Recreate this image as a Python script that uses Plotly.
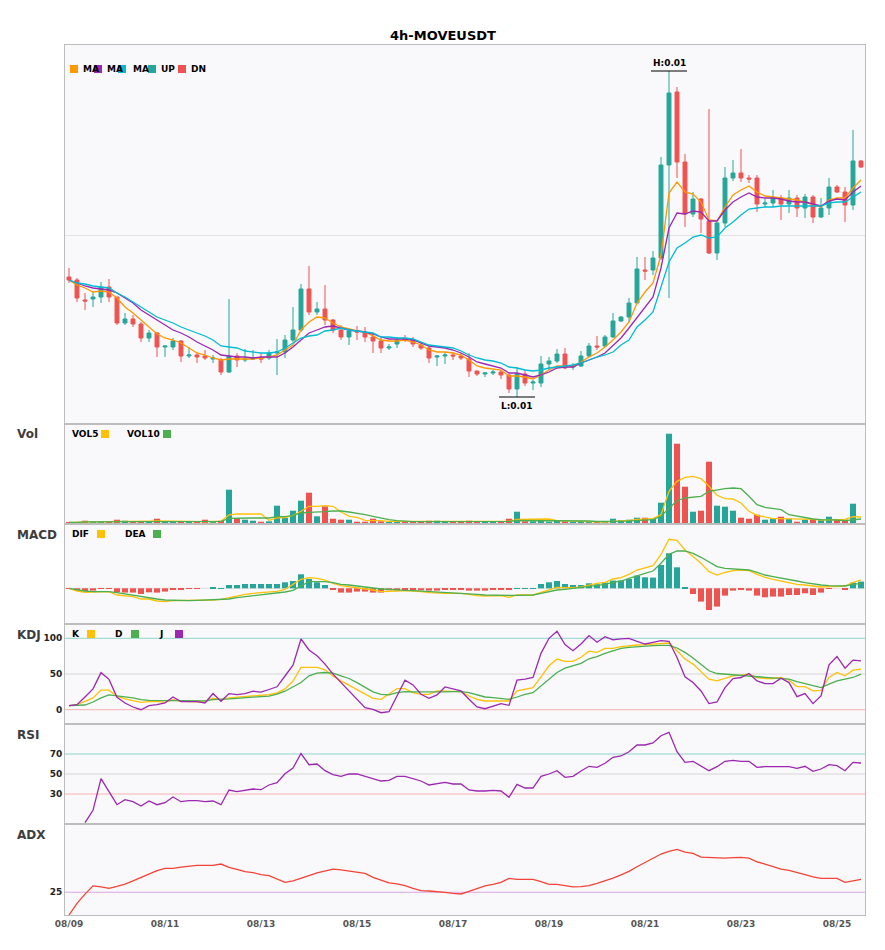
import pandas as pd
import plotly.graph_objects as go
from plotly.subplots import make_subplots

# 4h candles, 08/09 00:00 onwards
times = pd.date_range("2025-08-09 00:00", periods=100, freq="4h")

open_ = [0.01158, 0.01155, 0.01135, 0.01136, 0.01138, 0.01148, 0.01138, 0.01112, 0.01116, 0.01111,
         0.01097, 0.01102, 0.01088, 0.01088, 0.01094, 0.01079, 0.01080, 0.01079, 0.01076, 0.01075,
         0.01063, 0.01079, 0.01075, 0.01076, 0.01077, 0.01077, 0.01082, 0.01083, 0.01095, 0.01105,
         0.01146, 0.01123, 0.01126, 0.01115, 0.01105, 0.01098, 0.01104, 0.01102, 0.01098, 0.01094,
         0.01087, 0.01091, 0.01096, 0.01095, 0.01090, 0.01087, 0.01078, 0.01079, 0.01080, 0.01079,
         0.01076, 0.01064, 0.01061, 0.01062, 0.01063, 0.01060, 0.01046, 0.01061, 0.01052, 0.01052,
         0.01071, 0.01074, 0.01081, 0.01068, 0.01069, 0.01079, 0.01089, 0.01089, 0.01098, 0.01114,
         0.01118, 0.01132, 0.01165, 0.01165, 0.01177, 0.01270, 0.01343, 0.01273, 0.01221, 0.01236,
         0.01214, 0.01182, 0.01212, 0.01257, 0.01262, 0.01257, 0.01257, 0.01231, 0.01232, 0.01237,
         0.01231, 0.01237, 0.01227, 0.01238, 0.01218, 0.01227, 0.01248, 0.01243, 0.01230, 0.01274]
high = [0.01167, 0.01157, 0.01142, 0.01143, 0.01153, 0.01156, 0.01138, 0.01122, 0.01120, 0.01113,
        0.01105, 0.01103, 0.01089, 0.01097, 0.01095, 0.01088, 0.01083, 0.01085, 0.01080, 0.01077,
        0.01136, 0.01082, 0.01086, 0.01085, 0.01082, 0.01085, 0.01096, 0.01100, 0.01128, 0.01151,
        0.01169, 0.01133, 0.01150, 0.01116, 0.01110, 0.01107, 0.01109, 0.01108, 0.01102, 0.01097,
        0.01091, 0.01098, 0.01100, 0.01098, 0.01092, 0.01090, 0.01080, 0.01083, 0.01083, 0.01082,
        0.01082, 0.01064, 0.01063, 0.01065, 0.01065, 0.01061, 0.01068, 0.01065, 0.01055, 0.01079,
        0.01078, 0.01086, 0.01087, 0.01072, 0.01084, 0.01092, 0.01099, 0.01100, 0.01122, 0.01119,
        0.01137, 0.01178, 0.01178, 0.01184, 0.01278, 0.01364, 0.01348, 0.01281, 0.01243, 0.01237,
        0.01326, 0.01213, 0.01268, 0.01275, 0.01286, 0.01260, 0.01260, 0.01236, 0.01245, 0.01240,
        0.01245, 0.01240, 0.01241, 0.01240, 0.01237, 0.01257, 0.01250, 0.01248, 0.01305, 0.01275]
low = [0.01152, 0.01133, 0.01125, 0.01128, 0.01132, 0.01133, 0.01110, 0.01110, 0.01108, 0.01093,
       0.01093, 0.01078, 0.01078, 0.01085, 0.01073, 0.01077, 0.01072, 0.01075, 0.01072, 0.01060,
       0.01062, 0.01068, 0.01073, 0.01075, 0.01072, 0.01075, 0.01060, 0.01077, 0.01093, 0.01103,
       0.01120, 0.01120, 0.01110, 0.01102, 0.01095, 0.01090, 0.01095, 0.01093, 0.01082, 0.01082,
       0.01085, 0.01087, 0.01093, 0.01088, 0.01085, 0.01072, 0.01069, 0.01071, 0.01075, 0.01075,
       0.01058, 0.01059, 0.01058, 0.01060, 0.01056, 0.01042, 0.01038, 0.01049, 0.01045, 0.01048,
       0.01065, 0.01072, 0.01066, 0.01065, 0.01068, 0.01078, 0.01085, 0.01088, 0.01097, 0.01113,
       0.01113, 0.01132, 0.01155, 0.01160, 0.01175, 0.01137, 0.01257, 0.01208, 0.01218, 0.01202,
       0.01181, 0.01175, 0.01208, 0.01254, 0.01253, 0.01252, 0.01223, 0.01228, 0.01228, 0.01215,
       0.01222, 0.01218, 0.01217, 0.01212, 0.01217, 0.01220, 0.01242, 0.01213, 0.01225, 0.01267]
close = [0.01155, 0.01137, 0.01134, 0.01138, 0.01148, 0.01138, 0.01112, 0.01116, 0.01111, 0.01097,
         0.01102, 0.01088, 0.01089, 0.01094, 0.01079, 0.01080, 0.01078, 0.01077, 0.01077, 0.01063,
         0.01079, 0.01075, 0.01076, 0.01077, 0.01076, 0.01082, 0.01083, 0.01095, 0.01105, 0.01146,
         0.01123, 0.01126, 0.01115, 0.01105, 0.01098, 0.01104, 0.01103, 0.01098, 0.01094, 0.01087,
         0.01088, 0.01095, 0.01095, 0.01091, 0.01087, 0.01077, 0.01079, 0.01080, 0.01079, 0.01077,
         0.01064, 0.01061, 0.01062, 0.01063, 0.01060, 0.01046, 0.01061, 0.01052, 0.01053, 0.01071,
         0.01074, 0.01081, 0.01067, 0.01069, 0.01079, 0.01089, 0.01088, 0.01098, 0.01114, 0.01118,
         0.01132, 0.01166, 0.01164, 0.01177, 0.01270, 0.01342, 0.01273, 0.01221, 0.01236, 0.01216,
         0.01182, 0.01212, 0.01257, 0.01262, 0.01257, 0.01256, 0.01231, 0.01232, 0.01237, 0.01231,
         0.01237, 0.01227, 0.01238, 0.01218, 0.01227, 0.01248, 0.01243, 0.01230, 0.01274, 0.01268]

ma5 = [0.01155, 0.01150, 0.01147, 0.01143, 0.01144, 0.01143, 0.01137, 0.01128, 0.01122, 0.01115,
       0.01108, 0.01101, 0.01097, 0.01095, 0.01092, 0.01087, 0.01082, 0.01080, 0.01077, 0.01075,
       0.01076, 0.01076, 0.01076, 0.01076, 0.01077, 0.01078, 0.01080, 0.01085, 0.01090, 0.01105,
       0.01113, 0.01118, 0.01117, 0.01112, 0.01108, 0.01106, 0.01104, 0.01103, 0.01099, 0.01095,
       0.01094, 0.01094, 0.01095, 0.01093, 0.01090, 0.01085, 0.01083, 0.01083, 0.01082, 0.01080,
       0.01075, 0.01069, 0.01067, 0.01066, 0.01065, 0.01059, 0.01059, 0.01058, 0.01056, 0.01060,
       0.01065, 0.01069, 0.01069, 0.01069, 0.01073, 0.01078, 0.01082, 0.01088, 0.01095, 0.01103,
       0.01113, 0.01132, 0.01143, 0.01152, 0.01180, 0.01242, 0.01253, 0.01243, 0.01241, 0.01233,
       0.01215, 0.01214, 0.01228, 0.01240, 0.01245, 0.01249, 0.01243, 0.01239, 0.01238, 0.01237,
       0.01236, 0.01235, 0.01233, 0.01230, 0.01228, 0.01235, 0.01237, 0.01237, 0.01247, 0.01255]
ma10 = [0.01155, 0.01152, 0.01149, 0.01147, 0.01146, 0.01145, 0.01142, 0.01137, 0.01132, 0.01125,
        0.01120, 0.01115, 0.01110, 0.01105, 0.01102, 0.01098, 0.01093, 0.01089, 0.01085, 0.01080,
        0.01079, 0.01078, 0.01078, 0.01077, 0.01078, 0.01078, 0.01078, 0.01082, 0.01088, 0.01095,
        0.01102, 0.01105, 0.01108, 0.01109, 0.01107, 0.01105, 0.01104, 0.01103, 0.01101, 0.01098,
        0.01096, 0.01096, 0.01096, 0.01095, 0.01092, 0.01089, 0.01088, 0.01087, 0.01085, 0.01082,
        0.01078, 0.01073, 0.01071, 0.01069, 0.01067, 0.01062, 0.01062, 0.01060, 0.01058, 0.01060,
        0.01063, 0.01067, 0.01068, 0.01068, 0.01072, 0.01075, 0.01078, 0.01082, 0.01090, 0.01097,
        0.01107, 0.01117, 0.01127, 0.01138, 0.01167, 0.01207, 0.01222, 0.01221, 0.01224, 0.01223,
        0.01214, 0.01214, 0.01225, 0.01233, 0.01238, 0.01242, 0.01238, 0.01237, 0.01237, 0.01236,
        0.01234, 0.01233, 0.01233, 0.01231, 0.01229, 0.01234, 0.01236, 0.01235, 0.01243, 0.01249]
ma20 = [0.01155, 0.01152, 0.01151, 0.01149, 0.01148, 0.01147, 0.01142, 0.01138, 0.01133, 0.01128,
        0.01123, 0.01118, 0.01115, 0.01112, 0.01108, 0.01105, 0.01102, 0.01099, 0.01095, 0.01089,
        0.01088, 0.01087, 0.01084, 0.01083, 0.01082, 0.01082, 0.01083, 0.01087, 0.01092, 0.01097,
        0.01099, 0.01100, 0.01104, 0.01105, 0.01107, 0.01105, 0.01104, 0.01103, 0.01102, 0.01098,
        0.01098, 0.01097, 0.01097, 0.01096, 0.01093, 0.01090, 0.01089, 0.01088, 0.01087, 0.01084,
        0.01080, 0.01077, 0.01075, 0.01074, 0.01072, 0.01068, 0.01067, 0.01065, 0.01064, 0.01065,
        0.01067, 0.01068, 0.01069, 0.01070, 0.01072, 0.01075, 0.01078, 0.01080, 0.01083, 0.01090,
        0.01095, 0.01108, 0.01115, 0.01123, 0.01147, 0.01173, 0.01187, 0.01192, 0.01198, 0.01200,
        0.01197, 0.01198, 0.01207, 0.01213, 0.01220, 0.01226, 0.01227, 0.01228, 0.01228, 0.01229,
        0.01229, 0.01229, 0.01229, 0.01229, 0.01229, 0.01232, 0.01233, 0.01233, 0.01238, 0.01243]

volume = [1.7, 1.3, 3.3, 2.0, 2.0, 2.0, 4.3, 3.3, 2.0, 2.3,
          2.3, 5.3, 2.0, 1.3, 2.7, 1.7, 2.0, 4.3, 2.0, 3.3,
          34.3, 6.0, 4.3, 3.3, 2.3, 2.7, 18.3, 6.0, 13.3, 23.3,
          31.3, 7.7, 17.7, 5.3, 4.3, 4.3, 2.3, 2.3, 5.3, 2.7,
          1.7, 1.7, 1.7, 2.0, 2.0, 3.3, 3.3, 2.0, 2.0, 2.7,
          3.3, 1.7, 1.7, 1.7, 1.7, 5.3, 12.3, 2.7, 2.7, 4.3,
          2.3, 3.7, 2.7, 1.7, 1.7, 1.7, 1.7, 2.3, 5.3, 4.0,
          4.3, 6.3, 6.3, 5.3, 21.3, 90.3, 80.3, 37.3, 12.3, 13.3,
          62.3, 18.3, 17.3, 13.3, 6.3, 5.3, 9.3, 4.3, 5.3, 7.3,
          5.3, 2.3, 4.3, 4.3, 4.3, 7.3, 4.3, 4.3, 20.3, 0.7]
vol5 = [1.7, 1.5, 2.1, 2.1, 2.1, 2.1, 2.7, 2.7, 2.7, 2.8,
        2.8, 3.0, 2.8, 2.6, 2.7, 2.6, 2.0, 2.4, 2.5, 2.7,
        9.2, 10.0, 10.0, 10.0, 10.0, 3.7, 6.2, 6.5, 8.5, 12.7,
        17.7, 17.7, 18.3, 17.7, 12.0, 7.7, 6.7, 3.7, 3.7, 3.3,
        2.7, 2.7, 2.3, 2.0, 2.0, 2.0, 2.3, 2.7, 2.7, 2.7,
        2.7, 2.3, 2.3, 2.3, 2.0, 2.7, 4.7, 4.7, 5.0, 5.3,
        5.0, 3.3, 3.3, 3.0, 2.7, 2.3, 2.0, 2.0, 2.7, 3.0,
        3.7, 4.7, 5.3, 5.3, 9.3, 32.7, 42.7, 46.7, 47.7, 45.3,
        37.7, 28.7, 25.3, 25.0, 21.0, 12.7, 8.7, 6.7, 5.3, 5.3,
        5.3, 4.7, 4.7, 4.7, 4.0, 4.3, 4.7, 4.7, 7.3, 7.0]
vol10 = [1.7, 1.5, 2.1, 2.1, 2.1, 2.1, 2.4, 2.5, 2.5, 2.5,
         2.7, 2.8, 2.7, 2.6, 2.6, 2.6, 2.5, 2.7, 2.6, 2.6,
         5.7, 6.0, 6.0, 6.0, 6.0, 6.0, 7.3, 7.3, 8.3, 11.0,
         11.7, 11.7, 12.3, 13.0, 13.0, 12.0, 11.0, 9.3, 7.7, 5.7,
         4.3, 3.3, 2.7, 2.3, 2.3, 2.3, 2.3, 2.3, 2.3, 2.3,
         2.5, 2.3, 2.3, 2.3, 2.3, 2.7, 3.5, 3.5, 3.5, 3.7,
         3.7, 3.7, 3.7, 3.7, 3.5, 3.0, 2.5, 2.3, 2.7, 2.7,
         3.0, 3.3, 4.0, 4.3, 7.7, 16.0, 23.3, 26.0, 26.7, 27.7,
         32.7, 34.3, 35.3, 36.0, 35.3, 27.7, 19.3, 16.7, 15.3, 14.3,
         9.3, 7.7, 6.0, 5.0, 4.3, 4.3, 4.0, 3.3, 4.3, 5.0]

# MACD values in units of 1e-5
dif = [0.0, -2.7, -4.0, -4.0, -3.3, -3.3, -6.7, -7.7, -8.3, -10.7,
       -10.7, -12.7, -13.3, -12.3, -12.3, -12.3, -12.0, -11.7, -11.7, -11.0,
       -9.3, -7.3, -6.0, -5.0, -4.3, -3.7, -3.0, -1.0, 4.0, 9.0,
       10.7, 10.0, 8.3, 5.0, 2.7, 1.7, 0.7, 0.0, -1.7, -3.3,
       -2.7, -2.7, -2.3, -2.7, -3.3, -4.3, -5.0, -5.0, -5.0, -5.0,
       -6.0, -7.3, -7.7, -7.3, -7.3, -9.0, -6.7, -6.7, -6.7, -4.0,
       -1.7, 1.0, 0.7, 0.7, 1.5, 3.3, 5.0, 6.0, 9.3, 10.7,
       14.0, 18.3, 20.7, 22.7, 34.0, 49.0, 48.0, 38.3, 31.7, 25.0,
       16.7, 13.3, 16.0, 17.7, 18.3, 17.7, 14.0, 11.0, 9.0, 7.3,
       6.0, 4.0, 3.3, 2.3, 1.3, 1.7, 2.3, 2.3, 6.0, 8.3]
dea = [0.0, -1.7, -2.7, -3.3, -3.3, -3.3, -4.3, -5.7, -6.7, -8.3,
       -9.3, -10.7, -11.7, -12.0, -12.3, -12.3, -12.0, -11.7, -11.7, -11.3,
       -10.7, -9.3, -8.3, -7.7, -6.7, -5.7, -5.0, -3.7, -2.0, 2.5,
       6.7, 6.7, 6.7, 5.7, 4.0, 3.3, 2.3, 1.0, 0.0, -0.7,
       -1.0, -1.7, -2.0, -2.3, -2.7, -3.3, -4.0, -4.3, -4.3, -5.0,
       -5.7, -6.0, -6.7, -7.0, -7.0, -7.0, -7.0, -7.0, -6.7, -5.0,
       -3.3, -1.7, -1.0, 0.0, 0.5, 2.0, 2.7, 4.0, 6.0, 7.3,
       10.0, 12.7, 15.0, 17.3, 25.0, 34.0, 37.3, 37.3, 35.0, 31.0,
       26.7, 21.7, 20.0, 19.3, 19.0, 18.3, 16.0, 13.3, 11.7, 10.0,
       8.3, 7.3, 5.7, 4.3, 3.3, 2.7, 2.7, 2.3, 4.0, 5.0]
macd_hist = [-0.7, -2.3, -3.0, -2.3, -0.7, -0.7, -4.0, -4.3, -4.3, -5.7,
             -4.0, -4.3, -3.3, -1.0, -1.3, -0.7, -0.3, 0.0, 0.7, 0.3,
             3.3, 3.3, 4.3, 4.3, 4.3, 4.3, 4.3, 6.0, 7.3, 14.0,
             9.3, 6.0, 3.3, -1.0, -4.3, -4.3, -3.3, -3.3, -4.3, -4.3,
             -2.0, -2.0, -1.0, -1.0, -2.0, -2.3, -2.3, -1.0, -1.0, -1.0,
             -2.3, -2.3, -2.3, -1.0, -1.0, -1.0, 0.3, 0.3, 0.3, 4.3,
             6.0, 7.3, 4.3, 3.3, 3.3, 5.0, 4.0, 5.7, 7.7, 7.7,
             9.3, 12.7, 11.0, 10.7, 23.3, 35.0, 21.0, 1.3, -5.7, -13.3,
             -21.7, -18.3, -7.3, -2.3, -1.7, -2.3, -7.3, -9.0, -8.3, -8.3,
             -6.7, -6.7, -5.0, -6.7, -4.3, -0.7, 0.0, -1.7, 5.7, 6.7]

k_line = [5.7, 7.0, 11.8, 16.5, 27.4, 27.4, 18.9, 15.1, 12.7, 10.4,
          11.3, 11.8, 10.4, 14.2, 11.8, 11.3, 11.3, 10.8, 16.0, 14.2,
          16.5, 17.5, 17.9, 19.8, 19.8, 21.2, 23.6, 29.2, 40.1, 59.2,
          59.2, 59.2, 55.9, 47.4, 40.4, 34.3, 27.2, 21.6, 16.0, 14.6,
          21.6, 29.6, 29.6, 23.9, 21.6, 21.6, 26.3, 26.3, 25.4, 25.4,
          19.2, 14.6, 12.2, 12.2, 12.2, 12.2, 26.3, 28.6, 31.0, 46.0,
          61.5, 70.9, 67.6, 67.6, 73.5, 82.0, 80.3, 85.9, 85.9, 88.3,
          89.7, 90.6, 91.1, 92.0, 93.4, 93.4, 82.6, 70.9, 63.8, 53.1,
          42.7, 40.4, 44.1, 47.4, 48.4, 49.8, 45.1, 43.7, 43.7, 45.1,
          41.3, 32.4, 32.4, 26.3, 27.2, 45.1, 52.1, 47.4, 55.4, 56.8]
d_line = [5.7, 5.7, 6.6, 10.8, 16.5, 20.8, 18.9, 17.9, 16.5, 14.2,
          13.2, 12.7, 12.7, 12.7, 12.7, 12.7, 12.7, 12.3, 14.2, 14.2,
          15.1, 16.0, 17.0, 17.9, 18.4, 18.9, 21.7, 25.9, 31.6, 38.0,
          47.4, 51.2, 52.1, 51.2, 47.4, 43.7, 38.0, 31.0, 24.9, 21.6,
          20.7, 23.9, 25.4, 24.9, 24.9, 23.9, 23.9, 24.9, 25.4, 25.4,
          23.9, 20.7, 17.8, 16.9, 16.0, 14.6, 17.8, 21.6, 23.9, 33.3,
          43.7, 52.1, 58.2, 61.5, 64.8, 71.3, 74.2, 78.9, 82.6, 85.9,
          87.3, 88.3, 88.7, 89.7, 90.1, 90.1, 86.4, 80.3, 72.3, 63.8,
          54.5, 50.7, 49.8, 49.3, 48.4, 47.4, 46.5, 46.0, 45.1, 44.1,
          42.7, 39.4, 36.6, 33.3, 31.0, 35.7, 40.4, 42.7, 45.1, 49.8]
j_line = [5.7, 7.0, 17.9, 29.2, 51.9, 42.5, 17.5, 9.4, 3.8, 0.0,
          5.7, 7.0, 9.4, 17.9, 11.3, 11.3, 11.3, 9.4, 22.6, 11.8,
          22.6, 21.2, 22.6, 25.9, 24.5, 28.3, 32.1, 47.2, 62.3, 99.0,
          83.6, 75.6, 63.8, 49.8, 38.0, 26.3, 14.6, 2.8, 0.5, -4.2,
          -2.8, 19.2, 41.3, 34.7, 21.6, 16.0, 20.7, 31.9, 28.6, 26.3,
          14.6, 3.8, 1.4, 5.2, 8.5, 6.1, 41.3, 42.7, 45.1, 78.9,
          100.0, 109.9, 91.1, 82.6, 92.0, 103.8, 94.4, 102.3, 97.7, 99.1,
          100.0, 95.8, 92.0, 94.4, 96.7, 95.8, 73.2, 46.0, 38.0, 26.3,
          8.5, 10.8, 31.0, 43.7, 45.1, 50.7, 40.4, 36.6, 36.6, 44.1,
          38.0, 18.3, 22.5, 8.5, 19.2, 62.9, 74.6, 58.2, 69.5, 68.5]

rsi = [None, None, 1.3, 13.7, 45.3, 32.0, 19.3, 24.3, 22.3, 18.0,
       23.0, 19.3, 21.3, 27.0, 22.3, 23.3, 23.3, 22.3, 23.0, 19.3,
       34.0, 32.3, 34.0, 35.0, 34.3, 39.0, 41.3, 50.3, 56.0, 70.5,
       59.3, 60.0, 53.3, 49.3, 47.7, 50.0, 50.0, 47.7, 46.0, 43.0,
       43.7, 47.7, 47.7, 45.0, 43.0, 39.0, 40.0, 41.7, 40.0, 40.0,
       34.0, 33.0, 33.0, 33.7, 33.0, 26.7, 39.7, 36.0, 36.0, 47.7,
       50.0, 53.3, 46.7, 47.7, 53.0, 57.7, 56.7, 60.7, 66.7, 68.0,
       72.3, 79.0, 79.0, 81.0, 88.3, 91.7, 72.3, 61.7, 62.7, 58.3,
       53.3, 57.3, 62.7, 63.7, 62.7, 62.7, 56.7, 57.3, 57.3, 56.7,
       57.3, 55.7, 57.7, 52.7, 55.0, 59.3, 58.3, 53.3, 61.7, 61.0]

adx = [0.0, 12.8, 23.0, 32.0, 31.0, 29.3, 31.5, 34.0, 37.4, 41.0,
       44.7, 48.7, 51.3, 51.3, 52.7, 53.8, 54.6, 54.6, 54.6, 56.0,
       52.4, 50.2, 47.6, 46.5, 44.3, 43.2, 39.2, 35.9, 37.4, 39.9,
       43.2, 46.2, 48.7, 50.5, 49.5, 48.4, 47.6, 45.8, 41.4, 38.1,
       35.2, 34.1, 32.2, 29.3, 26.7, 26.4, 26.0, 24.9, 23.8, 23.1,
       26.0, 29.3, 31.9, 33.7, 35.9, 40.3, 39.2, 39.2, 39.2, 36.6,
       33.7, 33.7, 32.6, 30.8, 31.1, 32.2, 34.8, 37.4, 40.5, 44.0,
       48.0, 53.0, 57.5, 62.0, 67.0, 70.0, 72.0, 69.2, 67.7, 63.5,
       63.0, 62.5, 62.5, 63.0, 63.3, 62.5, 58.5, 56.0, 53.0, 50.5,
       49.0, 47.0, 44.5, 42.0, 40.3, 40.3, 40.3, 35.9, 37.5, 39.2]

UP = "#26A69A"
DN = "#EF5350"
FONT = "DejaVu Sans"


def px(x):
    # screen pixel x -> paper
    return (x - 65) / 800


def py(y):
    # screen pixel y -> paper
    return (915 - y) / 870


fig = make_subplots(rows=6, cols=1, shared_xaxes=True, vertical_spacing=0,
                    row_heights=[379, 100, 100, 100, 100, 91])

fig.add_trace(go.Candlestick(x=times, open=open_, high=high, low=low, close=close,
                             increasing=dict(line=dict(color=UP, width=1), fillcolor=UP),
                             decreasing=dict(line=dict(color=DN, width=1), fillcolor=DN),
                             whiskerwidth=0, showlegend=False, hoverinfo="skip"), row=1, col=1)
for ma, col in [(ma5, "#FF9800"), (ma10, "#9C27B0"), (ma20, "#00BCD4")]:
    fig.add_trace(go.Scatter(x=times, y=ma, mode="lines", line=dict(color=col, width=1.3),
                             showlegend=False), row=1, col=1)

bar_colors = [UP if c >= o else DN for o, c in zip(open_, close)]
fig.add_trace(go.Bar(x=times, y=volume, marker_color=bar_colors, marker_line_width=0,
                     showlegend=False), row=2, col=1)
fig.add_trace(go.Scatter(x=times, y=vol5, mode="lines", line=dict(color="#FFC107", width=1.3),
                         showlegend=False), row=2, col=1)
fig.add_trace(go.Scatter(x=times, y=vol10, mode="lines", line=dict(color="#4CAF50", width=1.3),
                         showlegend=False), row=2, col=1)

hist_colors = [UP if v >= 0 else DN for v in macd_hist]
fig.add_trace(go.Bar(x=times, y=macd_hist, marker_color=hist_colors, marker_line_width=0,
                     showlegend=False), row=3, col=1)
fig.add_trace(go.Scatter(x=times, y=dif, mode="lines", line=dict(color="#FFC107", width=1.3),
                         showlegend=False), row=3, col=1)
fig.add_trace(go.Scatter(x=times, y=dea, mode="lines", line=dict(color="#4CAF50", width=1.3),
                         showlegend=False), row=3, col=1)

for s, col in [(k_line, "#FFC107"), (d_line, "#4CAF50"), (j_line, "#9C27B0")]:
    fig.add_trace(go.Scatter(x=times, y=s, mode="lines", line=dict(color=col, width=1.3),
                             showlegend=False), row=4, col=1)
fig.add_trace(go.Scatter(x=times, y=rsi, mode="lines", line=dict(color="#9C27B0", width=1.3),
                         showlegend=False), row=5, col=1)
fig.add_trace(go.Scatter(x=times, y=adx, mode="lines", line=dict(color="#F44336", width=1.3),
                         showlegend=False), row=6, col=1)

# reference lines
for y, col, row in [(0, "#DDDDDD", 3),
                    (100, "#8FD3CC", 4), (50, "#D6D6D6", 4), (0, "#F7B0B0", 4),
                    (70, "#8FD3CC", 5), (50, "#D6D6D6", 5), (30, "#F7B0B0", 5),
                    (25, "#D9A6E3", 6)]:
    fig.add_hline(y=y, line=dict(color=col, width=1), layer="below", row=row, col=1)

# high / low markers
hi = high.index(max(high))
lo = low.index(min(low))
half = pd.Timedelta(hours=9)
fig.add_shape(type="line", x0=times[hi] - half, x1=times[hi] + half, y0=high[hi], y1=high[hi],
              line=dict(color="black", width=1.2), xref="x", yref="y")
fig.add_shape(type="line", x0=times[lo] - half, x1=times[lo] + half, y0=low[lo], y1=low[lo],
              line=dict(color="black", width=1.2), xref="x", yref="y")
fig.add_annotation(x=times[hi], y=high[hi], xref="x", yref="y", text=f"H:{high[hi]:.2f}",
                   showarrow=False, yanchor="bottom", yshift=1,
                   font=dict(family=FONT, size=9, color="black", weight="bold"))
fig.add_annotation(x=times[lo], y=low[lo], xref="x", yref="y", text=f"L:{low[lo]:.2f}",
                   showarrow=False, yanchor="top", yshift=-2,
                   font=dict(family=FONT, size=9, color="black", weight="bold"))

# panel titles
for label, y in [("Vol", 434), ("MACD", 535), ("KDJ", 635), ("RSI", 735), ("ADX", 835)]:
    fig.add_annotation(x=px(15), y=py(y), xref="paper", yref="paper", text=label,
                       showarrow=False, xanchor="left", yanchor="middle",
                       font=dict(family=FONT, size=12, color="#3C3C3C", weight="bold"))

# in-panel legends: (text, text_x, square_x, colour)
legend_font = dict(family=FONT, size=9, color="black", weight="bold")
main_items = [("MA", 81, 70, "#FF9800"), ("MA", 105, 94, "#9C27B0"), ("MA", 131, 118, "#00BCD4"),
              ("UP", 159, 148, UP), ("DN", 189, 178, DN)]
panel_items = [
    (434, [("VOL5", 70, 101, "#FFC107"), ("VOL10", 125, 163, "#4CAF50")]),
    (534, [("DIF", 70, 97, "#FFC107"), ("DEA", 123, 153, "#4CAF50")]),
    (634, [("K", 70, 87, "#FFC107"), ("D", 113, 131, "#4CAF50"), ("J", 157, 175, "#9C27B0")]),
]
for y, items in [(69, main_items)] + panel_items:
    for text, tx, sx, col in items:
        fig.add_shape(type="rect", xref="paper", yref="paper", x0=px(sx), x1=px(sx + 8),
                      y0=py(y + 4), y1=py(y - 4), fillcolor=col, line_width=0)
        fig.add_annotation(x=px(tx), y=py(y), xref="paper", yref="paper", text=text,
                           showarrow=False, xanchor="left", yanchor="middle", font=legend_font)

tick_font = dict(family=FONT, size=9, color="#222222", weight="bold")
fig.update_xaxes(type="date", showgrid=False, showline=True, mirror=True, linecolor="#BDBDBD",
                 range=[times[0] - pd.Timedelta(hours=2), times[-1] + pd.Timedelta(hours=2)],
                 tick0="2025-08-09", dtick=2 * 86400000, tickformat="%m/%d", ticks="",
                 rangeslider_visible=False,
                 tickfont=dict(family=FONT, size=9, color="#555555", weight="bold"))
fig.update_yaxes(showgrid=False, zeroline=False, showline=True, mirror=True,
                 linecolor="#BDBDBD", ticks="", tickfont=tick_font)
fig.update_yaxes(row=1, col=1, range=[0.01011, 0.0139], tickvals=[0.012], showticklabels=False,
                 showgrid=True, gridcolor="#E2E2E2")
fig.update_yaxes(row=2, col=1, range=[0, 100], showticklabels=False)
fig.update_yaxes(row=3, col=1, range=[-35.7, 64.3], showticklabels=False)
fig.update_yaxes(row=4, col=1, range=[-20, 120], tickvals=[0, 50, 100])
fig.update_yaxes(row=5, col=1, range=[0, 100], tickvals=[30, 50, 70])
fig.update_yaxes(row=6, col=1, range=[0, 100], tickvals=[25])

# the page adds an 8px body margin, so the figure is sized to land on the same pixels
fig.update_layout(
    width=870, height=935,
    margin=dict(l=57, r=13, t=37, b=28),
    paper_bgcolor="white", plot_bgcolor="#F9F9FB",
    bargap=0.25,
    showlegend=False,
    title=dict(text="4h-MOVEUSDT", x=0.5, xref="container", y=1 - 27 / 935, yanchor="middle",
               font=dict(family=FONT, size=13, color="black", weight="bold")),
)

fig.write_html("out.html")
